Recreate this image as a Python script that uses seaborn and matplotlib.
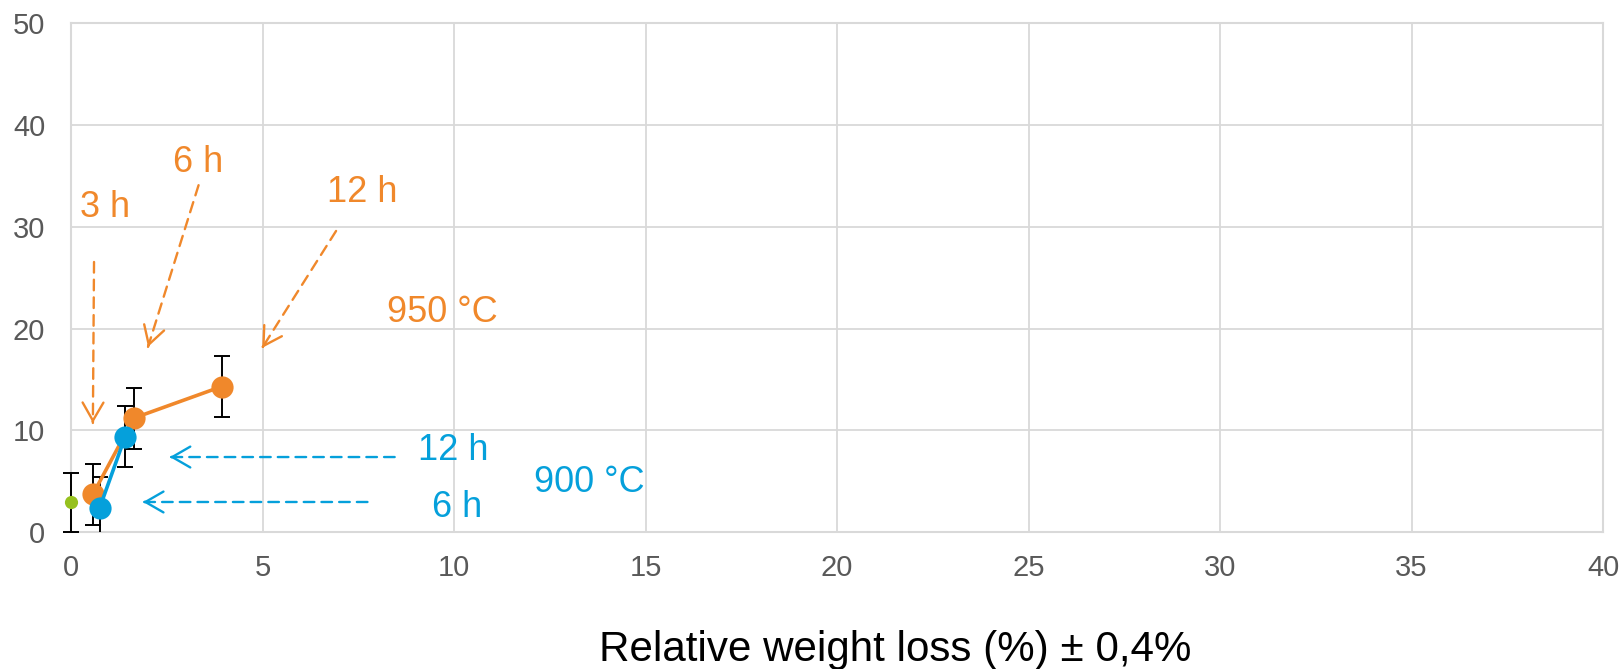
import numpy as np
import pandas as pd
import matplotlib
matplotlib.use("Agg")
import matplotlib.pyplot as plt
import seaborn as sns

# Données
weight_loss_950 = [0.57, 1.64, 3.93]
value_950 = [3.7, 11.2, 14.3]
err_950 = [3.0, 3.0, 3.0]

weight_loss_900 = [0.75, 1.41]
value_900 = [2.4, 9.35]
err_900 = [3.0, 3.0]

weight_loss_ref = [0.0]
value_ref = [2.9]
err_ref = [2.9]

x_ticks = [0, 5, 10, 15, 20, 25, 30, 35, 40]
y_ticks = [0, 10, 20, 30, 40, 50]

orange = "#F0882B"
blue = "#05A0DB"
green = "#96C11E"
grey_text = "#595959"
grid_col = "#D9D9D9"

sns.set_theme(style="whitegrid")
plt.rcParams["font.family"] = ["Liberation Sans", "DejaVu Sans"]

df_950 = pd.DataFrame({"x": weight_loss_950, "y": value_950, "err": err_950})
df_900 = pd.DataFrame({"x": weight_loss_900, "y": value_900, "err": err_900})

fig, ax = plt.subplots(figsize=(16.22, 6.69), dpi=100)
fig.subplots_adjust(left=0.0438, right=0.9883, bottom=0.2048, top=0.9649)

# Barres d'erreur (derrière les marqueurs)
for d in (df_950, df_900):
    ax.errorbar(d["x"], d["y"], yerr=d["err"], fmt="none", ecolor="black",
                elinewidth=1.4, capsize=5.5, capthick=1.4, zorder=2.6)
ax.errorbar(weight_loss_ref, value_ref, yerr=err_ref, fmt="none", ecolor="black",
            elinewidth=1.4, capsize=5.5, capthick=1.4, zorder=2.6, clip_on=False)

# Séries
sns.lineplot(data=df_950, x="x", y="y", color=orange, marker="o", markersize=16,
             markeredgewidth=0, linewidth=2.6, ax=ax, zorder=3)
sns.lineplot(data=df_900, x="x", y="y", color=blue, marker="o", markersize=16,
             markeredgewidth=0, linewidth=2.6, ax=ax, zorder=4)
sns.scatterplot(x=weight_loss_ref, y=value_ref, color=green, s=90, linewidth=0,
                ax=ax, zorder=4, clip_on=False)

ax.set_xlim(0, 40)
ax.set_ylim(0, 50)
ax.set_xticks(x_ticks)
ax.set_yticks(y_ticks)
ax.tick_params(axis="both", length=0, labelsize=21, labelcolor=grey_text)
ax.tick_params(axis="x", pad=16)
ax.tick_params(axis="y", pad=18.5)
ax.grid(True, color=grid_col, linewidth=1.3)
for side, sp in ax.spines.items():
    sp.set_color(grid_col)
    sp.set_linewidth(1.5)
ax.set_ylabel("")
ax.set_xlabel("Relative weight loss (%) \u00b1 0,4%", fontsize=30.3, color="black", va="baseline")
ax.xaxis.set_label_coords(0.538, -0.2537)


def dashed_arrow(start, tip, color):
    ax.annotate("", xy=tip, xytext=start,
                arrowprops=dict(arrowstyle="-", linestyle=(0, (4.5, 3)), lw=1.7,
                                color=color, shrinkA=0, shrinkB=0))
    near = (tip[0] + 0.01 * (start[0] - tip[0]), tip[1] + 0.01 * (start[1] - tip[1]))
    ax.annotate("", xy=tip, xytext=near,
                arrowprops=dict(arrowstyle="->, head_length=1.3, head_width=0.75",
                                lw=1.7, color=color, shrinkA=0, shrinkB=0,
                                mutation_scale=10))


# Annotations 950 °C
ax.text(0.89, 30.97, "3 h", color=orange, fontsize=26, ha="center", va="baseline")
ax.text(3.33, 35.4, "6 h", color=orange, fontsize=26, ha="center", va="baseline")
ax.text(7.60, 32.45, "12 h", color=orange, fontsize=26, ha="center", va="baseline")
ax.text(9.70, 20.65, "950 °C", color=orange, fontsize=26, ha="center", va="baseline")
dashed_arrow((0.60, 26.55), (0.57, 10.72), orange)
dashed_arrow((3.33, 34.1), (2.01, 18.2), orange)
dashed_arrow((6.92, 29.6), (4.99, 18.1), orange)

# Annotations 900 °C
ax.text(9.97, 7.08, "12 h", color=blue, fontsize=26, ha="center", va="baseline")
ax.text(10.07, 1.47, "6 h", color=blue, fontsize=26, ha="center", va="baseline")
ax.text(13.53, 3.93, "900 °C", color=blue, fontsize=26, ha="center", va="baseline")
dashed_arrow((8.45, 7.37), (2.58, 7.37), blue)
dashed_arrow((7.74, 2.95), (1.88, 2.95), blue)

fig.savefig("out.png", dpi=100)
